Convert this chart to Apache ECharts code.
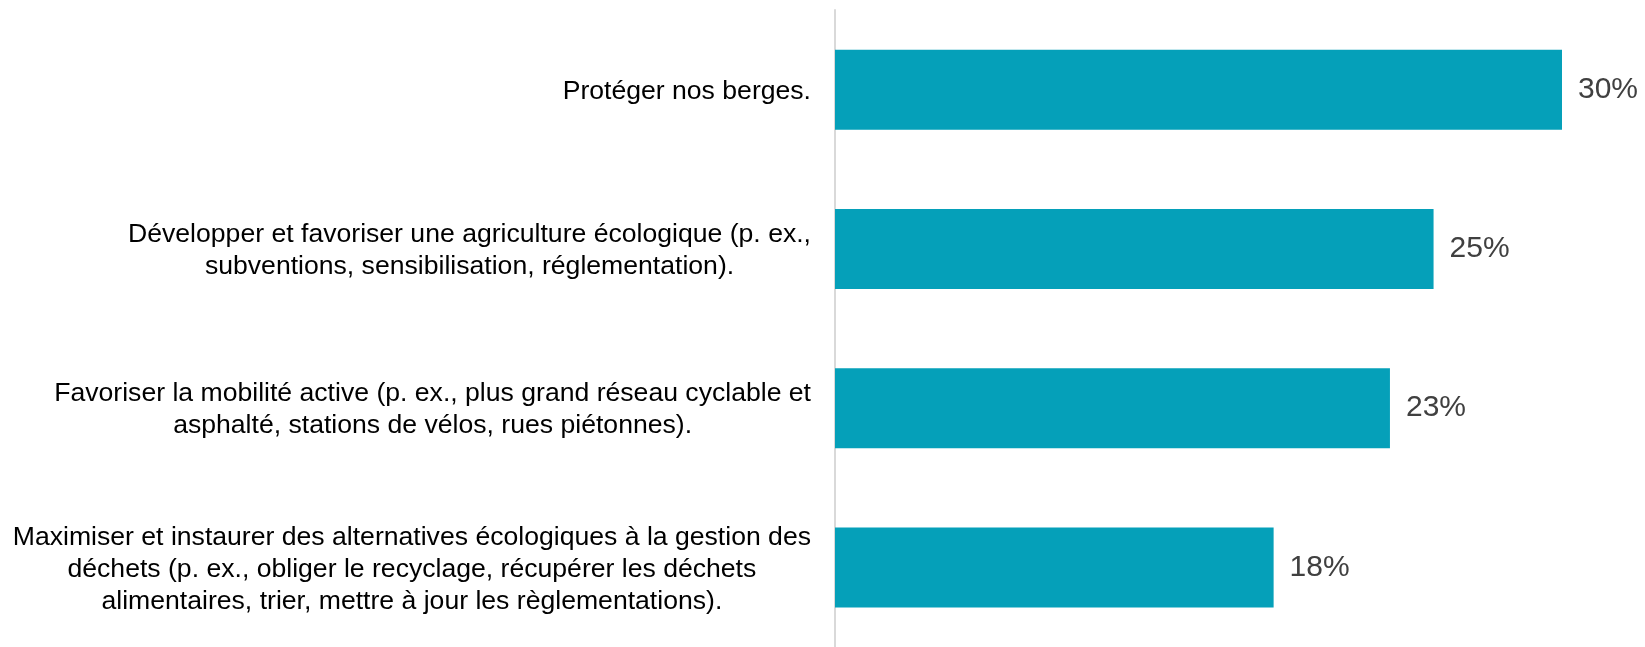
<!DOCTYPE html>
<html>
<head>
<meta charset="utf-8">
<script src="https://cdn.jsdelivr.net/npm/echarts@6/dist/echarts.min.js"></script>
<style>
html,body{margin:0;padding:0;background:#fff;}
#chart{width:1645px;height:647px;}
</style>
</head>
<body>
<div id="chart"></div>
<script>
const categories = [
  "Protéger nos berges.",
  "Développer et favoriser une agriculture écologique (p. ex.,\nsubventions, sensibilisation, réglementation).",
  "Favoriser la mobilité active (p. ex., plus grand réseau cyclable et\nasphalté, stations de vélos, rues piétonnes).",
  "Maximiser et instaurer des alternatives écologiques à la gestion des\ndéchets (p. ex., obliger le recyclage, récupérer les déchets\nalimentaires, trier, mettre à jour les règlementations)."
];
const values = [30.0, 24.7, 22.9, 18.1];

const chart = echarts.init(document.getElementById('chart'));
chart.setOption({
  animation: false,
  backgroundColor: '#ffffff',
  grid: { left: 835, right: 83, top: 10, height: 642, containLabel: false },
  xAxis: {
    type: 'value', min: 0, max: 30,
    show: false
  },
  yAxis: {
    type: 'category',
    data: categories,
    inverse: true,
    axisLine: { show: true, lineStyle: { color: '#d9d9d9', width: 2 } },
    axisTick: { show: false },
    splitLine: { show: false },
    axisLabel: {
      margin: 24,
      padding: [4, 0, 0, 0],
      formatter: function (v) {
        return v.split('\n').map(function (l) { return '{c|' + l + '}'; }).join('\n');
      },
      rich: {
        c: {
          align: 'center',
          fontFamily: 'Liberation Sans, Arial, sans-serif',
          fontSize: 26.6,
          lineHeight: 32,
          color: '#000000'
        }
      }
    }
  },
  series: [{
    type: 'bar',
    data: values,
    barWidth: 80,
    itemStyle: { color: '#05a0b9' },
    label: {
      show: true,
      position: 'right',
      distance: 16,
      formatter: function (p) { return Math.round(p.value) + '%'; },
      fontFamily: 'Liberation Sans, Arial, sans-serif',
      fontSize: 30,
      color: '#404040'
    }
  }]
});
</script>
</body>
</html>
